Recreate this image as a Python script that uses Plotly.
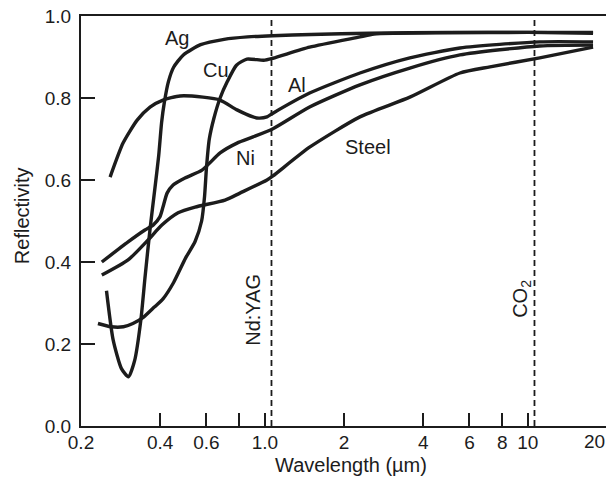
import math
import plotly.graph_objects as go

# ---- data (wavelength in µm, reflectivity) ----
ag_wl = [0.250, 0.265, 0.285, 0.303, 0.320, 0.338, 0.350, 0.366, 0.382, 0.395, 0.405, 0.415,
         0.43, 0.45, 0.49, 0.57, 0.70, 0.86, 1.07, 1.5, 2.5, 5, 10, 17.7]
ag_r = [0.33, 0.21, 0.14, 0.12, 0.16, 0.26, 0.36, 0.48, 0.58, 0.66, 0.74, 0.79,
        0.84, 0.875, 0.905, 0.93, 0.943, 0.949, 0.952, 0.955, 0.958, 0.96, 0.96, 0.958]

cu_wl = [0.232, 0.26, 0.29, 0.315, 0.345, 0.38, 0.41, 0.45, 0.50, 0.543, 0.575, 0.59, 0.60,
         0.615, 0.64, 0.676, 0.72, 0.78, 0.855, 0.99, 1.074, 1.48, 2.3, 2.6, 5, 10, 17.7]
cu_r = [0.25, 0.242, 0.242, 0.25, 0.265, 0.29, 0.31, 0.35, 0.41, 0.45, 0.50, 0.56, 0.63,
        0.70, 0.75, 0.80, 0.84, 0.88, 0.895, 0.892, 0.897, 0.924, 0.949, 0.956, 0.959, 0.96, 0.96]

al_wl = [0.258, 0.289, 0.327, 0.366, 0.41, 0.476, 0.582, 0.676, 0.784, 0.902, 0.95, 1.019,
         1.074, 1.48, 2.30, 3.56, 5.52, 11.1, 17.7]
al_r = [0.607, 0.690, 0.746, 0.778, 0.795, 0.805, 0.802, 0.795, 0.771, 0.754, 0.751, 0.754,
        0.763, 0.812, 0.861, 0.898, 0.922, 0.937, 0.937]

ni_wl = [0.240, 0.302, 0.350, 0.376, 0.399, 0.410, 0.425, 0.448, 0.497, 0.577, 0.676, 0.784,
         0.902, 1.074, 1.48, 2.30, 3.56, 5.52, 11.1, 17.7]
ni_r = [0.40, 0.449, 0.478, 0.490, 0.510, 0.534, 0.568, 0.588, 0.605, 0.624, 0.666, 0.690,
        0.705, 0.725, 0.778, 0.832, 0.873, 0.905, 0.927, 0.929]

steel_wl = [0.240, 0.302, 0.360, 0.406, 0.468, 0.543, 0.706, 0.804, 1.019, 1.074, 1.48, 2.30,
            3.56, 5.52, 7.18, 11.1, 17.7]
steel_r = [0.368, 0.405, 0.454, 0.490, 0.520, 0.534, 0.551, 0.568, 0.600, 0.61, 0.680, 0.754,
           0.802, 0.861, 0.876, 0.898, 0.924]

laser_wl = [1.06, 10.6]
laser_names = ["Nd:YAG", "CO<sub>2</sub>"]

x_tickvals = [0.2, 0.4, 0.6, 1.0, 2, 4, 6, 8, 10]
x_ticktext = ["0.2", "0.4", "0.6", "1.0", "2", "4", "6", "8", "10"]
x_minor_tickvals = [0.8]
x_end_label = "20"
y_tickvals = [0.0, 0.2, 0.4, 0.6, 0.8, 1.0]
y_ticktext = ["0.0", "0.2", "0.4", "0.6", "0.8", "1.0"]

x_title = "Wavelength (µm)"
y_title = "Reflectivity"

# label positions (wavelength, reflectivity)
labels = [("Ag", 0.463, 0.946), ("Cu", 0.652, 0.868), ("Al", 1.326, 0.832),
          ("Ni", 0.841, 0.654), ("Steel", 2.47, 0.680)]
laser_label_pos = [(0.90, 0.283), (9.5, 0.31)]

INK = "#1c1c1c"
FONT = "Liberation Sans, Arial, sans-serif"

fig = go.Figure()
for wl, r in [(ag_wl, ag_r), (cu_wl, cu_r), (al_wl, al_r), (ni_wl, ni_r), (steel_wl, steel_r)]:
    fig.add_trace(go.Scatter(x=wl, y=r, mode="lines",
                             line=dict(color=INK, width=3.4, shape="spline", smoothing=0.6),
                             hoverinfo="skip", showlegend=False))

for wl in laser_wl:
    fig.add_trace(go.Scatter(x=[wl, wl], y=[0, 1], mode="lines",
                             line=dict(color=INK, width=1.8, dash="6px,4px"),
                             hoverinfo="skip", showlegend=False))

for name, x, y in labels:
    fig.add_annotation(x=math.log10(x), y=y, xref="x", yref="y", text=name, showarrow=False,
                       xanchor="center", yanchor="middle",
                       font=dict(family=FONT, size=20, color=INK))

for name, (x, y) in zip(laser_names, laser_label_pos):
    fig.add_annotation(x=math.log10(x), y=y, xref="x", yref="y", text=name, showarrow=False,
                       xanchor="center", yanchor="middle",
                       textangle=-90, font=dict(family=FONT, size=20, color=INK))

# last x tick label, nudged in from the page edge like the original
fig.add_annotation(x=1.0, y=-0.039, xref="paper", yref="paper", text=x_end_label,
                   showarrow=False, xanchor="right", yanchor="middle",
                   font=dict(family=FONT, size=19, color=INK))

# axis titles
fig.add_annotation(x=0.514, y=-0.095, xref="paper", yref="paper", text=x_title,
                   showarrow=False, xanchor="center", yanchor="middle",
                   font=dict(family=FONT, size=20, color=INK))
fig.add_annotation(x=-0.112, y=0.512, xref="paper", yref="paper", text=y_title,
                   showarrow=False, xanchor="center", yanchor="middle", textangle=-90,
                   font=dict(family=FONT, size=20, color=INK))

# the page body adds an 8px offset, so the figure is 8px smaller than the window
fig.update_layout(
    width=606, height=471,
    margin=dict(l=73, r=7, t=8, b=53, autoexpand=False),
    paper_bgcolor="white", plot_bgcolor="white",
    font=dict(family=FONT, color=INK),
    showlegend=False,
)
fig.update_xaxes(type="log", range=[math.log10(0.2), math.log10(20)],
                 tickvals=x_tickvals, ticktext=x_ticktext,
                 ticks="inside", ticklen=13, tickwidth=2, tickcolor=INK,
                 minor=dict(tickvals=x_minor_tickvals, ticks="inside", ticklen=13,
                            tickwidth=2, tickcolor=INK, showgrid=False),
                 showline=True, linecolor=INK, linewidth=2, mirror=True,
                 showgrid=False, zeroline=False, automargin=False,
                 ticklabelstandoff=-2, ticklabeloverflow="allow",
                 tickfont=dict(family=FONT, size=19, color=INK))
fig.update_yaxes(range=[0, 1], tickvals=y_tickvals, ticktext=y_ticktext,
                 ticks="inside", ticklen=14, tickwidth=2, tickcolor=INK,
                 showline=True, linecolor=INK, linewidth=2, mirror=True,
                 showgrid=False, zeroline=False, automargin=False,
                 ticklabelstandoff=4, ticklabeloverflow="allow",
                 tickfont=dict(family=FONT, size=19, color=INK))

fig.write_html("out.html")
